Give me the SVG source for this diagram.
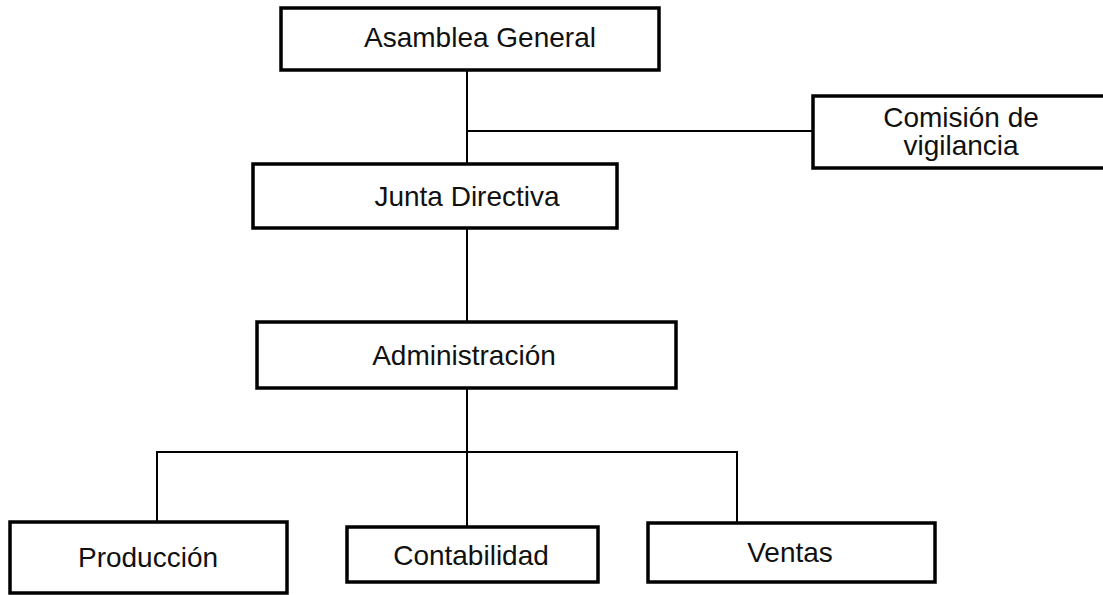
<svg xmlns="http://www.w3.org/2000/svg" width="1103" height="595" viewBox="0 0 1103 595">
<style>
.box{fill:#fff;stroke:#000;stroke-width:3.5}
.lbl{font-family:"Liberation Sans",Arial,sans-serif;font-size:28px;fill:#111;text-anchor:middle}
.ln{stroke:#000;stroke-width:2;fill:none}
</style>
<rect width="1103" height="595" fill="#fff"/>
<g id="connectors">
<line class="ln" x1="467" y1="70" x2="467" y2="163"/>
<line class="ln" x1="467" y1="131" x2="813" y2="131"/>
<line class="ln" x1="467" y1="228" x2="467" y2="322"/>
<line class="ln" x1="467" y1="388" x2="467" y2="527"/>
<line class="ln" x1="157" y1="452" x2="737" y2="452"/>
<line class="ln" x1="157" y1="451" x2="157" y2="522"/>
<line class="ln" x1="737" y1="451" x2="737" y2="523"/>
</g>
<g id="asamblea"><rect class="box" x="281" y="8" width="378" height="62"/><text class="lbl" x="480" y="47">Asamblea General</text></g>
<g id="comision"><rect class="box" x="813" y="96" width="300" height="72"/><text class="lbl" x="961" y="127">Comisión de</text><text class="lbl" x="961" y="155">vigilancia</text></g>
<g id="junta"><rect class="box" x="253" y="164" width="364" height="64"/><text class="lbl" x="467" y="206">Junta Directiva</text></g>
<g id="administracion"><rect class="box" x="257" y="322" width="419" height="66"/><text class="lbl" x="464" y="365">Administración</text></g>
<g id="produccion"><rect class="box" x="10" y="522" width="277" height="71"/><text class="lbl" x="148" y="567">Producción</text></g>
<g id="contabilidad"><rect class="box" x="347" y="527" width="251" height="55"/><text class="lbl" x="471" y="565">Contabilidad</text></g>
<g id="ventas"><rect class="box" x="648" y="523" width="287" height="59"/><text class="lbl" x="790" y="562">Ventas</text></g>
</svg>
